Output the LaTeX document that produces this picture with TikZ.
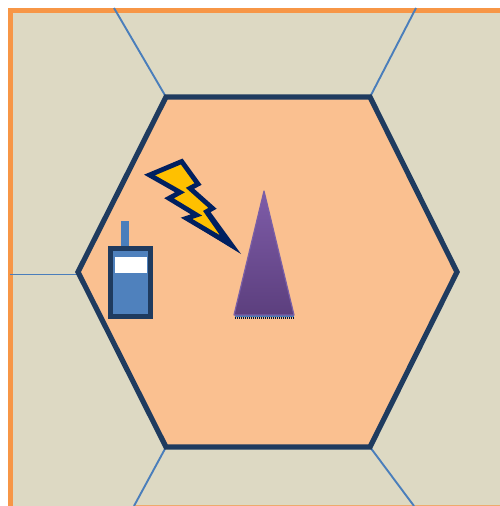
\documentclass[tikz,border=0pt]{standalone}
\definecolor{cellbg}{HTML}{DDD9C3}
\definecolor{frameor}{HTML}{F79646}
\definecolor{hexfill}{HTML}{FAC090}
\definecolor{navyline}{HTML}{1F3B5F}
\definecolor{linkblue}{HTML}{4A7EBB}
\definecolor{devblue}{HTML}{4F81BD}
\definecolor{boltnavy}{HTML}{002060}
\definecolor{boltyellow}{HTML}{FFC000}
\definecolor{trtop}{HTML}{7E5CA8}
\definecolor{trbot}{HTML}{5C3F7E}
\definecolor{trline}{HTML}{7A5FA6}
\tikzset{
  cellline/.style={draw=linkblue,line width=1.9pt},
  hexcell/.style={draw=navyline,fill=hexfill,line width=5.2pt,line join=miter},
  boltshape/.style={draw=boltnavy,fill=boltyellow,line width=4.8pt,line join=miter,miter limit=20},
}
\begin{document}
\begin{tikzpicture}[x=1pt,y=-1pt]
\useasboundingbox (0,0) rectangle (500,506);
\fill[white] (0,0) rectangle (500,506);
% background and frame
\fill[cellbg] (10,10) rectangle (500,506);
\fill[frameor] (8,8) rectangle (500,13);
\fill[frameor] (8,8) rectangle (13,506);
\fill[frameor!70!cellbg] (134,505) rectangle (500,506);
% hexagon corners
\coordinate (h1) at (166,97);
\coordinate (h2) at (370,97);
\coordinate (h3) at (457,272);
\coordinate (h4) at (370,447);
\coordinate (h5) at (166,447);
\coordinate (h6) at (78,272);
\coordinate (h6b) at (80,274.5);
% neighbouring cell edges
\coordinate (e1) at (114,8);
\coordinate (e2) at (416,8);
\coordinate (e3) at (10,274.5);
\coordinate (e4) at (134,506);
\coordinate (e5) at (414,506);
\draw[cellline] (e1) -- (h1);
\draw[cellline] (e2) -- (h2);
\draw[cellline] (e3) -- (h6b);
\draw[cellline] (e4) -- (h5);
\draw[cellline] (e5) -- (h4);
\draw[hexcell] (h1) -- (h2) -- (h3) -- (h4) -- (h5) -- (h6) -- cycle;
% device
\fill[linkblue] (121,221) rectangle (129,246);
\draw[draw=navyline,fill=devblue,line width=5.3pt] (110.5,248.5) rectangle (150.3,316.3);
\fill[white] (115,257) rectangle (147,273);
% base station
\draw[draw=boltnavy!60!black,line width=1.2pt,dash pattern=on 1.2pt off 0.8pt] (234.5,318) -- (293.5,318);
\fill[linkblue] (234.5,314.5) rectangle (293.5,316.5);
\draw[draw=trline,line width=1.2pt,top color=trtop,bottom color=trbot,line join=round] (264,191) -- (294,315) -- (234,315) -- cycle;
% lightning
\fill[boltnavy] (241,254) -- (209,210) -- (186,220) -- cycle;
\draw[boltshape] (149.5,175) -- (181.7,161.5) -- (198,184) -- (190,188.3) -- (212.5,208.3) -- (206.5,211.7) -- (228.3,243) -- (186.5,218.3) -- (196.5,215) -- (169,198.3) -- (180,192.3) -- cycle;
\end{tikzpicture}
\end{document}
